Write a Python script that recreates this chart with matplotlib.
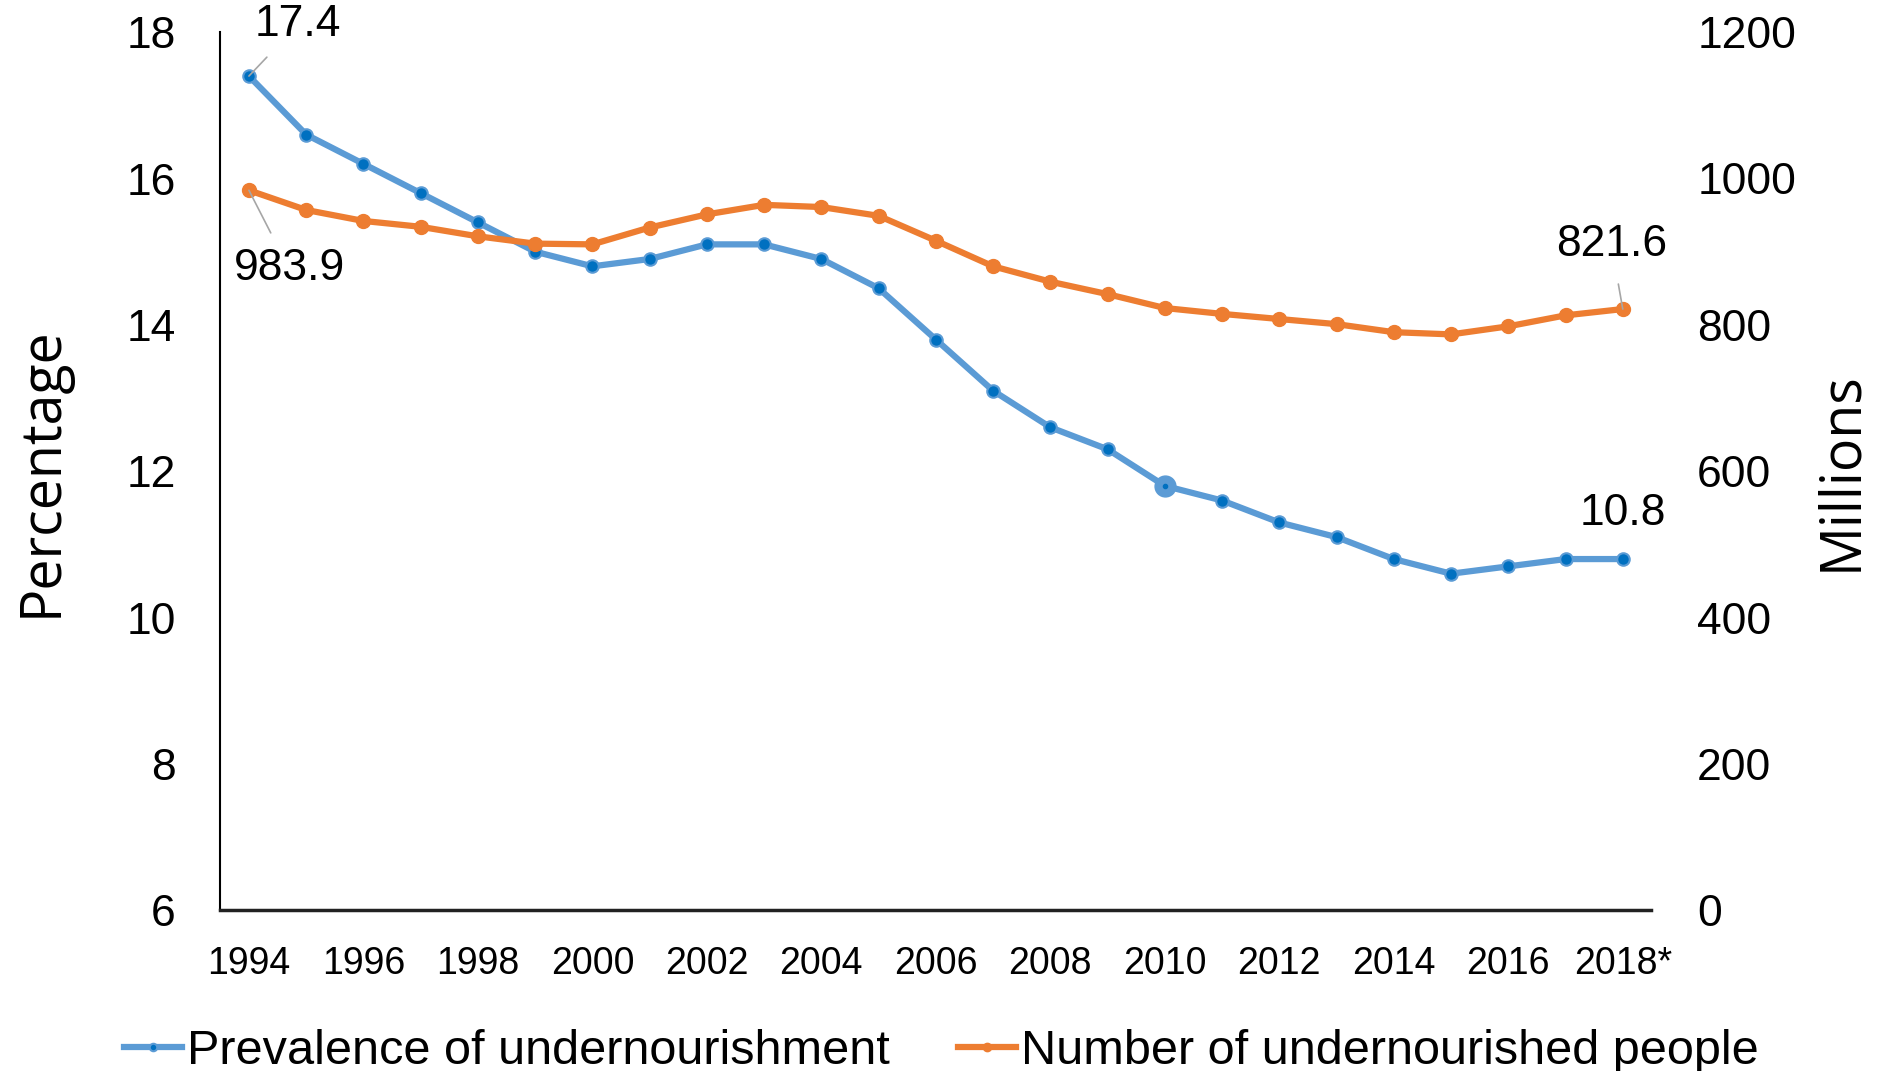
import matplotlib
matplotlib.use("Agg")
import matplotlib.pyplot as plt
from matplotlib import font_manager

# Data
years = list(range(1994, 2019))
prevalence = [17.4, 16.6, 16.2, 15.8, 15.4, 15.0, 14.8, 14.9, 15.1, 15.1,
              14.9, 14.5, 13.8, 13.1, 12.6, 12.3, 11.8, 11.6, 11.3, 11.1,
              10.8, 10.6, 10.7, 10.8, 10.8]
undernourished = [983.9, 957, 942, 934, 921, 911, 910, 933, 951, 964,
                  961, 949, 915, 880, 859, 842, 823, 815, 808, 801,
                  790, 787, 798, 813, 821.6]
tick_years = list(range(1994, 2019, 2))
tick_labels = [str(y) for y in tick_years[:-1]] + ["2018*"]

names = {f.name for f in font_manager.fontManager.ttflist}
narrow = "Liberation Sans Narrow" if "Liberation Sans Narrow" in names else "Liberation Sans"
plt.rcParams['font.family'] = [narrow, 'DejaVu Sans']

blue_line = "#5B9BD5"
blue_mark = "#0070C0"
orange = "#ED7D31"

fig = plt.figure(figsize=(18.83, 10.71), dpi=100)
ax = fig.add_axes([0.117, 0.150, 0.760, 0.820])
ax2 = ax.twinx()

ax.plot(years, prevalence, color=blue_line, lw=4.5, marker='o', ms=9,
        mfc=blue_mark, mec=blue_line, mew=1.5, zorder=3,
        label="Prevalence of undernourishment")
# highlighted 2010 point
i10 = years.index(2010)
ax.plot([years[i10]], [prevalence[i10]], marker='o', ms=15, mfc=blue_line,
        mec=blue_line, ls='none', zorder=4)
ax.plot([years[i10]], [prevalence[i10]], marker='o', ms=3, mfc=blue_mark,
        mec=blue_mark, ls='none', zorder=5)

ax2.plot(years, undernourished, color=orange, lw=4.5, marker='o', ms=10,
         mfc=orange, mec=orange, zorder=3,
         label="Number of undernourished people")

ax.set_xlim(1993.5, 2018.5)
ax.set_ylim(6, 18)
ax2.set_ylim(0, 1200)
ax.set_yticks(range(6, 19, 2))
ax2.set_yticks(range(0, 1201, 200))
ax.set_xticks(tick_years)
ax.set_xticklabels(tick_labels)

ax.tick_params(axis='y', length=0, labelsize=32, pad=32)
ax2.tick_params(axis='y', length=0, labelsize=32, pad=33)
ax.tick_params(axis='x', length=0, labelsize=27, pad=26)

for s in ['top', 'right']:
    ax.spines[s].set_visible(False)
for s in ['top', 'right', 'left', 'bottom']:
    ax2.spines[s].set_visible(False)
ax.spines['left'].set_color('black')
ax.spines['left'].set_linewidth(1.5)
ax.spines['bottom'].set_color('#222222')
ax.spines['bottom'].set_linewidth(2.5)

title_font = ['Open Sans', 'DejaVu Sans']
ax.set_ylabel("Percentage", fontsize=40, family=title_font, labelpad=40)
ax2.set_ylabel("Millions", fontsize=40, family=title_font, labelpad=12)

# data labels with leader lines
leader = dict(arrowstyle='-', color='#A6A6A6', lw=1.2, shrinkB=0)
ax.annotate(f"{prevalence[0]}", xy=(years[0], prevalence[0]), xytext=(1994.85, 18.1),
            ha='center', va='center', fontsize=32,
            arrowprops=dict(leader, shrinkA=9))
ax2.annotate(f"{undernourished[0]}", xy=(years[0], undernourished[0]), xytext=(1994.7, 877),
             ha='center', va='center', fontsize=32,
             arrowprops=dict(leader, shrinkA=10))
ax2.annotate(f"{undernourished[-1]}", xy=(years[-1], undernourished[-1]), xytext=(2017.8, 910),
             ha='center', va='center', fontsize=32,
             arrowprops=dict(leader, shrinkA=12))
ax.annotate(f"{prevalence[-1]}", xy=(years[-1], prevalence[-1]), xytext=(2018, 11.42),
            ha='center', va='center', fontsize=32)

h1, l1 = ax.get_legend_handles_labels()
h2, l2 = ax2.get_legend_handles_labels()
fig.legend(h1 + h2, l1 + l2, loc='lower center', bbox_to_anchor=(0.5, -0.03),
           ncol=2, frameon=False, fontsize=35, handlelength=1.2, borderpad=0.1,
           handletextpad=0.1, columnspacing=1.4, markerscale=0.6)

fig.savefig("out.png", dpi=100)
